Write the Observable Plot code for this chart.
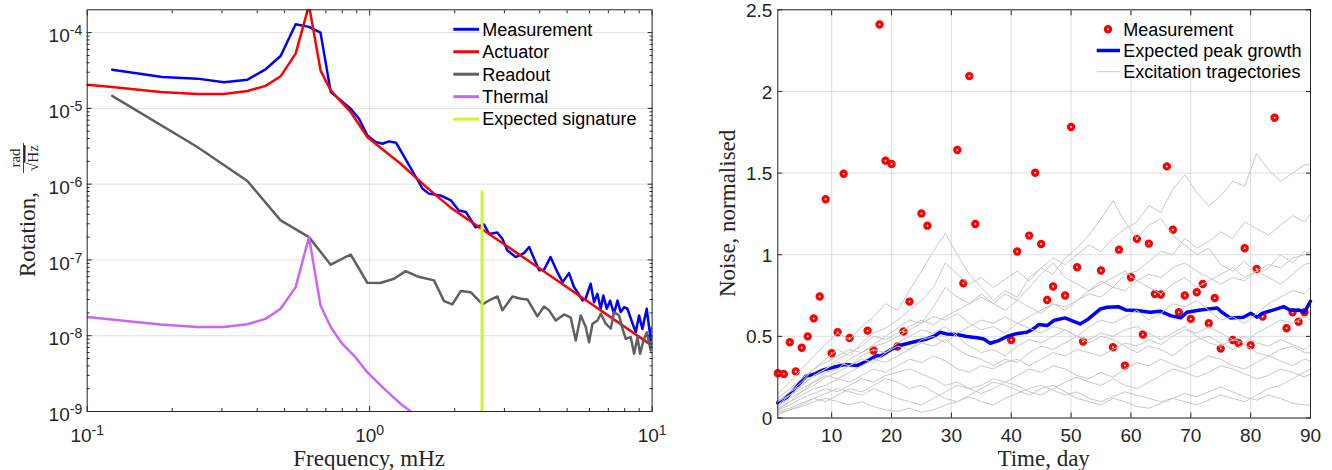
<!DOCTYPE html>
<html><head><meta charset="utf-8">
<script src="https://cdn.jsdelivr.net/npm/d3@7"></script>
<script src="https://cdn.jsdelivr.net/npm/@observablehq/plot@0.6"></script>
<style>
body{margin:0;background:#fff}
#fig{position:relative;width:1332px;height:470px;background:#fff;overflow:hidden}
#fig svg{position:absolute;top:0}
</style></head><body><div id="fig"></div>
<script>
// ---------- Left panel data ----------
const freqMeas = [0.1226,0.1845,0.2455,0.305,0.369,0.428,0.484,0.547,0.610,0.670,0.728,0.857,0.917,0.981,1.05,1.11,1.17,1.24,1.30,1.54,1.62,1.78,1.94,2.07,2.19,2.37,2.54,2.65,2.83,2.95,3.07,3.29,3.52,3.67,3.98,4.14,4.37,4.62,4.82,5.08,5.29,5.44,5.67,5.82,6.06,6.23,6.40,6.58,6.72,6.91,7.10,7.33,7.54,7.74,7.96,8.18,8.45,8.75,8.99,9.24,9.57,9.9,10];
const rotMeas = [3.24e-5,2.60e-5,2.47e-5,2.21e-5,2.39e-5,3.28e-5,4.92e-5,1.29e-4,1.19e-4,1.0e-4,1.65e-5,9.9e-6,7.3e-6,4.4e-6,3.6e-6,3.42e-6,3.67e-6,3.53e-6,2.6e-6,8.7e-7,7.5e-7,7.1e-7,6.1e-7,4.5e-7,4.3e-7,2.7e-7,2.94e-7,2.2e-7,2.3e-7,1.9e-7,1.34e-7,1.09e-7,1.23e-7,1.48e-7,7.3e-8,7.4e-8,1.09e-7,6.9e-8,5.1e-8,6.7e-8,4.4e-8,3.76e-8,2.92e-8,3.1e-8,4.85e-8,2.77e-8,3.57e-8,2.27e-8,3.4e-8,2.27e-8,2.9e-8,1.95e-8,2.92e-8,2.05e-8,2.38e-8,2.27e-8,1.59e-8,1.11e-8,1.85e-8,1.23e-8,2.27e-8,8.6e-9,1.3e-8];

const freqAct = [0.1,0.1226,0.1818,0.2455,0.305,0.369,0.428,0.484,0.547,0.61,0.67,0.728,0.857,0.981,1.124,1.288,1.515,1.69,1.936,2.54,4.0,10];
const rotAct = [2.05e-5,1.92e-5,1.65e-5,1.55e-5,1.55e-5,1.70e-5,1.98e-5,2.65e-5,5.28e-5,2.3e-4,3.18e-5,1.73e-5,8.95e-6,4.19e-6,2.79e-6,1.86e-6,1.07e-6,7.5e-7,4.9e-7,2.45e-7,7.7e-8,7.4e-9];

const freqRead = [0.1226,0.2455,0.369,0.484,0.610,0.728,0.857,0.981,1.09,1.22,1.341,1.476,1.69,1.834,1.963,2.101,2.279,2.507,2.646,2.834,2.951,3.203,3.426,3.619,3.926,4.144,4.317,4.56,4.879,5.152,5.366,5.589,5.823,5.981,6.15,6.408,6.583,6.855,7.14,7.335,7.64,7.855,8.068,8.405,8.635,8.877,9.067,9.322,9.576,9.894,10];
const rotRead = [1.46e-5,3.09e-6,1.1e-6,3.33e-7,2.0e-7,8.65e-8,1.18e-7,5.0e-8,4.97e-8,5.65e-8,7.11e-8,6.06e-8,5.37e-8,2.86e-8,2.59e-8,3.88e-8,3.76e-8,2.59e-8,2.92e-8,3.30e-8,2.16e-8,3.30e-8,3.08e-8,3.01e-8,1.80e-8,2.43e-8,2.16e-8,1.59e-8,1.91e-8,1.73e-8,8.65e-9,1.85e-8,1.30e-8,8.22e-9,1.44e-8,1.59e-8,1.95e-8,1.44e-8,1.24e-8,2.05e-8,1.85e-8,1.24e-8,9.12e-9,9.58e-9,5.78e-9,9.58e-9,5.78e-9,8.65e-9,1.11e-8,6.38e-9,7.83e-9];

const freqTherm = [0.1,0.1818,0.2455,0.305,0.369,0.428,0.484,0.547,0.610,0.670,0.728,0.800,0.880,0.981,1.124,1.288,1.409,1.6];
const rotTherm = [1.76e-8,1.41e-8,1.30e-8,1.30e-8,1.42e-8,1.67e-8,2.27e-8,4.38e-8,2.0e-7,2.51e-8,1.30e-8,7.83e-9,5.48e-9,3.30e-9,2.0e-9,1.26e-9,9.8e-10,6.5e-10];

const sigFreq = [2.5];
const sigTop = 8.1e-7;

const freqTicks = [0.1, 1, 10];
const freqMinor = [0.2,0.3,0.4,0.5,0.6,0.7,0.8,0.9,2,3,4,5,6,7,8,9];
const rotTicks = [1e-9,1e-8,1e-7,1e-6,1e-5,1e-4];
const rotMinor = [];
for (const d of [1e-9,1e-8,1e-7,1e-6,1e-5]) for (const m of [2,3,4,5,6,7,8,9]) rotMinor.push(+(m*d).toPrecision(3));

const leftLegend = ["Measurement","Actuator","Readout","Thermal","Expected signature"];

// ---------- Right panel data ----------
const measDays = [1,2,3,4,5,6,7,8,9,10,11,12,13,16,17,18,19,20,21,22,23,25,26,31,32,33,34,40,41,43,44,45,46,47,49,50,51,52,55,57,58,59,60,61,62,63,64,65,66,67,68,69,70,71,72,73,74,75,77,78,79,80,81,82,84,86,87,88,89];
const measNoise = [0.274,0.27,0.464,0.285,0.43,0.50,0.61,0.744,1.34,0.397,0.525,1.496,0.49,0.535,0.413,2.41,1.576,1.556,0.4375,0.53,0.713,1.253,1.178,1.641,0.825,2.094,1.188,0.478,1.02,1.117,1.502,1.066,0.723,0.805,0.75,1.782,0.923,0.468,0.903,0.433,1.031,0.321,0.862,1.097,0.511,1.068,0.76,0.756,1.541,1.153,0.648,0.75,0.607,0.77,0.821,0.58,0.735,0.425,0.478,0.458,1.04,0.446,0.913,0.621,1.839,0.55,0.648,0.59,0.648];

const peakDays = [1,2.5,4.1,5.7,7.2,8.6,10.3,12.2,14.2,15.9,17.5,18.3,19.8,21.4,22.8,24.2,25.9,27.3,28.1,29.2,30.9,32.6,34.3,35.4,36.5,37.9,39.3,40.7,42.6,43.7,44.6,46,47.1,49,50.1,51.5,52.9,54.9,56,57.9,59.1,61,63.2,64.9,66.6,68.3,69.4,71.6,74.4,75.2,76.6,78.8,80,81.1,81.9,84.4,85.5,86.7,88,89,90];
const peakNoise = [0.093,0.127,0.189,0.256,0.27,0.295,0.311,0.327,0.321,0.348,0.382,0.382,0.417,0.444,0.458,0.47,0.484,0.505,0.525,0.515,0.511,0.499,0.491,0.484,0.458,0.474,0.499,0.515,0.525,0.546,0.572,0.566,0.597,0.613,0.597,0.576,0.607,0.668,0.678,0.682,0.662,0.658,0.648,0.654,0.627,0.613,0.648,0.662,0.674,0.648,0.613,0.617,0.641,0.617,0.641,0.668,0.682,0.658,0.662,0.648,0.715];

const trajDays = [1,3,5,7,9,11,13,15,17,19,21,23,25,27,29,31,33,35,37,39,41,43,45,47,49,51,53,55,57,59,61,63,65,67,69,71,73,75,77,79,81,83,85,87,89,90];
const trajA = [0.15,0.22,0.3,0.38,0.45,0.52,0.48,0.56,0.62,0.7,0.66,0.78,0.9,1.02,1.13,1.0,0.88,0.8,0.72,0.78,0.74,0.86,0.92,0.88,0.98,1.04,1.12,1.22,1.33,1.2,1.1,1.18,1.22,1.12,1.06,1.0,1.04,0.94,0.9,0.96,0.88,0.92,1.0,0.95,1.02,1.0];
const trajB = [0.1,0.16,0.22,0.3,0.36,0.42,0.38,0.46,0.52,0.55,0.6,0.66,0.72,0.8,0.95,0.88,0.82,0.86,0.8,0.85,0.9,0.84,0.92,0.98,0.94,1.0,1.06,1.02,1.1,1.16,1.2,1.3,1.26,1.4,1.49,1.38,1.3,1.36,1.45,1.42,1.62,1.52,1.45,1.5,1.55,1.55];
const trajC = [0.05,0.1,0.16,0.22,0.28,0.3,0.36,0.4,0.45,0.5,0.55,0.6,0.58,0.68,0.8,0.74,0.7,0.76,0.7,0.66,0.72,0.8,0.88,0.95,0.86,0.82,0.78,0.84,0.8,0.88,0.9,0.96,1.02,1.0,1.1,1.04,1.08,1.14,1.1,1.2,1.16,1.12,1.18,1.24,1.2,1.25];
const trajD = [0.12,0.18,0.24,0.3,0.34,0.38,0.42,0.4,0.44,0.46,0.5,0.54,0.58,0.62,0.6,0.64,0.58,0.54,0.56,0.52,0.58,0.62,0.66,0.7,0.68,0.72,0.76,0.74,0.8,0.78,0.84,0.88,0.86,0.92,0.95,0.9,0.86,0.82,0.86,0.84,0.9,0.94,0.92,0.98,1.0,1.02];
const trajE = [0.08,0.14,0.2,0.26,0.3,0.34,0.32,0.38,0.42,0.4,0.46,0.5,0.54,0.52,0.56,0.5,0.44,0.4,0.42,0.38,0.44,0.48,0.46,0.5,0.54,0.5,0.56,0.6,0.58,0.62,0.66,0.6,0.64,0.7,0.68,0.72,0.66,0.6,0.62,0.58,0.64,0.7,0.74,0.78,0.76,0.8];
const trajF = [0.1,0.14,0.18,0.22,0.26,0.24,0.28,0.32,0.36,0.34,0.38,0.42,0.46,0.44,0.48,0.42,0.38,0.36,0.32,0.36,0.34,0.4,0.44,0.42,0.46,0.5,0.48,0.52,0.5,0.54,0.56,0.52,0.48,0.52,0.56,0.5,0.46,0.44,0.48,0.46,0.52,0.56,0.6,0.58,0.62,0.6];
const trajG = [0.06,0.1,0.14,0.18,0.2,0.24,0.22,0.26,0.3,0.28,0.32,0.36,0.34,0.38,0.35,0.3,0.28,0.32,0.3,0.34,0.36,0.32,0.36,0.4,0.38,0.42,0.4,0.38,0.42,0.46,0.44,0.48,0.45,0.5,0.54,0.52,0.56,0.52,0.48,0.5,0.46,0.44,0.48,0.45,0.42,0.45];
const trajH = [0.05,0.08,0.12,0.15,0.18,0.16,0.2,0.24,0.22,0.26,0.28,0.3,0.27,0.24,0.2,0.22,0.18,0.2,0.24,0.22,0.26,0.3,0.28,0.32,0.3,0.26,0.24,0.28,0.25,0.3,0.34,0.32,0.36,0.33,0.3,0.34,0.38,0.36,0.32,0.3,0.34,0.38,0.35,0.32,0.36,0.35];
const trajI = [0.04,0.06,0.09,0.12,0.15,0.18,0.16,0.14,0.18,0.15,0.12,0.1,0.08,0.12,0.16,0.2,0.18,0.15,0.18,0.22,0.2,0.16,0.14,0.18,0.22,0.25,0.22,0.2,0.24,0.2,0.18,0.22,0.26,0.3,0.28,0.25,0.28,0.32,0.3,0.27,0.24,0.26,0.3,0.28,0.25,0.27];
const trajJ = [0.03,0.05,0.07,0.1,0.12,0.1,0.08,0.1,0.07,0.05,0.04,0.06,0.035,0.05,0.08,0.1,0.13,0.1,0.08,0.12,0.15,0.18,0.2,0.17,0.14,0.16,0.12,0.1,0.13,0.16,0.14,0.12,0.1,0.12,0.15,0.13,0.16,0.19,0.16,0.13,0.11,0.14,0.12,0.09,0.08,0.08];
const trajK = [0.1,0.16,0.2,0.26,0.3,0.36,0.4,0.44,0.5,0.48,0.52,0.56,0.6,0.57,0.62,0.66,0.7,0.74,0.7,0.76,0.72,0.68,0.64,0.7,0.66,0.72,0.78,0.82,0.86,0.9,0.84,0.8,0.76,0.82,0.86,0.8,0.84,0.88,0.92,0.86,0.9,0.86,0.82,0.88,0.94,0.95];
const trajL = [0.07,0.12,0.16,0.2,0.25,0.28,0.32,0.36,0.34,0.4,0.44,0.42,0.48,0.5,0.46,0.52,0.56,0.6,0.58,0.62,0.58,0.55,0.52,0.56,0.54,0.5,0.46,0.5,0.48,0.44,0.4,0.44,0.42,0.38,0.44,0.48,0.5,0.46,0.42,0.45,0.4,0.38,0.42,0.44,0.4,0.4];
const trajM = [0.02,0.05,0.08,0.12,0.1,0.14,0.18,0.16,0.2,0.24,0.22,0.18,0.2,0.16,0.12,0.1,0.14,0.18,0.22,0.2,0.17,0.14,0.18,0.2,0.16,0.12,0.1,0.08,0.12,0.1,0.07,0.06,0.09,0.12,0.1,0.08,0.11,0.14,0.12,0.1,0.14,0.18,0.2,0.24,0.28,0.3];

const dayTicks = [10,20,30,40,50,60,70,80,90];
const noiseTicks = [0,0.5,1,1.5,2,2.5];
const rightLegend = ["Measurement","Expected peak growth","Excitation tragectories"];

// ---------- Styles ----------
const AX = "#262626";
const SANS = "'Liberation Sans', Arial, Helvetica, sans-serif";
const SERIF = "'Liberation Serif', 'Times New Roman', serif";
const C = {meas:"#0000ff", act:"#ff0000", read:"#606060", therm:"#c867f5", sig:"#ccf52c", traj:"#c8c8c8"};

const zip = (xs, ys, kx, ky) => xs.map((x, i) => ({[kx]: x, [ky]: ys[i]}));

// ---------- Left plot ----------
const L = {w: 670, h: 470, ml: 86.7, mr: 18.4, mt: 9.3, mb: 59};
const left = Plot.plot({
  width: L.w, height: L.h,
  marginLeft: L.ml, marginRight: L.mr, marginTop: L.mt, marginBottom: L.mb,
  style: {fontFamily: SANS, fontSize: "19px", color: AX, background: "transparent"},
  x: {type: "log", domain: [0.1, 10], label: null},
  y: {type: "log", domain: [1e-9, 2e-4], label: null},
  marks: [
    Plot.gridX([1], {stroke: AX, strokeOpacity: 0.15}),
    Plot.gridY(rotTicks.slice(1), {stroke: AX, strokeOpacity: 0.15}),
    Plot.line(zip(freqMeas, rotMeas, "f", "v"), {x: "f", y: "v", stroke: C.meas, strokeWidth: 2.5, clip: true}),
    Plot.line(zip(freqAct, rotAct, "f", "v"), {x: "f", y: "v", stroke: C.act, strokeWidth: 2.5, clip: true}),
    Plot.line(zip(freqRead, rotRead, "f", "v"), {x: "f", y: "v", stroke: C.read, strokeWidth: 2.5, clip: true}),
    Plot.line(zip(freqTherm, rotTherm, "f", "v"), {x: "f", y: "v", stroke: C.therm, strokeWidth: 2.5, clip: true}),
    Plot.ruleX(sigFreq, {y1: sigTop, y2: 1e-9, stroke: C.sig, strokeWidth: 3}),
    Plot.axisX(freqTicks, {tickSize: 0, tickPadding: 17, tickFormat: d => "10^" + Math.round(Math.log10(d)), label: null}),
    Plot.axisY(rotTicks, {tickSize: 0, tickPadding: 5, dy: 3.5, tickFormat: d => "10^" + Math.round(Math.log10(d)), label: null}),
    Plot.axisX(freqTicks, {tickSize: -5, tickFormat: () => "", label: null, stroke: AX}),
    Plot.axisX(freqMinor, {tickSize: -3, tickFormat: () => "", label: null, stroke: AX}),
    Plot.axisX(freqTicks, {anchor: "top", tickSize: -5, tickFormat: () => "", label: null, stroke: AX}),
    Plot.axisX(freqMinor, {anchor: "top", tickSize: -3, tickFormat: () => "", label: null, stroke: AX}),
    Plot.axisY(rotTicks, {tickSize: -5, tickFormat: () => "", label: null, stroke: AX}),
    Plot.axisY(rotMinor, {tickSize: -3, tickFormat: () => "", label: null, stroke: AX}),
    Plot.axisY(rotTicks, {anchor: "right", tickSize: -5, tickFormat: () => "", label: null, stroke: AX}),
    Plot.axisY(rotMinor, {anchor: "right", tickSize: -3, tickFormat: () => "", label: null, stroke: AX}),
    Plot.frame({stroke: AX})
  ]
});
left.style.left = "0px";

// ---------- Right plot ----------
const R = {x0: 670, w: 662, h: 470, ml: 107.3, mr: 22, mt: 9.3, mb: 52.5};
const trajList = [trajA,trajB,trajC,trajD,trajE,trajF,trajG,trajH,trajI,trajJ,trajK,trajL,trajM];
const trajData = trajList.flatMap((vals, k) => vals.map((v, i) => ({d: trajDays[i], v, id: k})));
const right = Plot.plot({
  width: R.w, height: R.h,
  marginLeft: R.ml, marginRight: R.mr, marginTop: R.mt, marginBottom: R.mb,
  style: {fontFamily: SANS, fontSize: "19px", color: AX, background: "transparent", overflow: "visible"},
  x: {domain: [1, 90], label: null},
  y: {domain: [0, 2.5], label: null},
  marks: [
    Plot.gridX(dayTicks, {stroke: AX, strokeOpacity: 0.15}),
    Plot.gridY(noiseTicks, {stroke: AX, strokeOpacity: 0.15}),
    Plot.dot(zip(measDays, measNoise, "d", "v"), {x: "d", y: "v", r: 2.6, stroke: C.act, strokeWidth: 3.2, fill: "white"}),
    Plot.line(zip(peakDays, peakNoise, "d", "v"), {x: "d", y: "v", stroke: C.meas, strokeWidth: 3.5}),
    Plot.line(trajData, {x: "d", y: "v", z: "id", stroke: C.traj, strokeWidth: 1}),
    Plot.axisX(dayTicks, {tickSize: 0, tickPadding: 10.5, tickFormat: d => String(d), label: null}),
    Plot.axisY(noiseTicks, {tickSize: 0, tickPadding: 5.5, dy: 1, tickFormat: d => String(d), label: null}),
    Plot.axisX(dayTicks, {tickSize: -5, tickFormat: () => "", label: null, stroke: AX}),
    Plot.axisX(dayTicks, {anchor: "top", tickSize: -5, tickFormat: () => "", label: null, stroke: AX}),
    Plot.axisY(noiseTicks, {tickSize: -5, tickFormat: () => "", label: null, stroke: AX}),
    Plot.axisY(noiseTicks, {anchor: "right", tickSize: -5, tickFormat: () => "", label: null, stroke: AX}),
    Plot.frame({stroke: AX})
  ]
});
right.style.left = R.x0 + "px";

const fig = document.getElementById("fig");
fig.appendChild(left);
fig.appendChild(right);

// superscripts for "10^n" tick labels
function supers(svg) {
  d3.select(svg).selectAll("text").each(function () {
    const t = this.textContent;
    const i = t.indexOf("^");
    if (i >= 0) {
      this.textContent = t.slice(0, i);
      d3.select(this).append("tspan").attr("dy", -7).attr("font-size", 14).text(t.slice(i + 1));
    }
  });
}
supers(left);

// ---------- Axis labels ----------
function label(svg, x, y, str, {rotate = 0, size = 23, anchor = "middle", family = SERIF} = {}) {
  return d3.select(svg).append("text")
    .attr("transform", `translate(${x},${y}) rotate(${rotate})`)
    .attr("text-anchor", anchor).attr("font-family", family).attr("font-size", size)
    .attr("fill", AX).text(str);
}
label(left, (L.ml + L.w - L.mr) / 2, 466, "Frequency, mHz");
label(right, (R.ml + R.w - R.mr) / 2, 466, "Time, day");
label(right, 735 - R.x0, (R.mt + R.h - R.mb) / 2, "Noise, normalised", {rotate: -90});

// left y label with fraction rad / sqrt(Hz)
{
  const g = d3.select(left).append("g").attr("transform", "translate(35,210) rotate(-90)")
    .attr("font-family", SERIF).attr("fill", AX);
  g.append("text").attr("x", -67).attr("y", 0).attr("text-anchor", "start").attr("font-size", 23).text("Rotation,");
  g.append("text").attr("x", 52).attr("y", -15).attr("text-anchor", "middle").attr("font-size", 15).text("rad");
  const den = g.append("text").attr("x", 52).attr("y", 3).attr("text-anchor", "middle").attr("font-size", 15);
  den.append("tspan").text("\u221A");
  den.append("tspan").attr("text-decoration", "overline").text("Hz");
  g.append("line").attr("x1", 37).attr("x2", 67).attr("y1", -11.5).attr("y2", -11.5)
    .attr("stroke", AX).attr("stroke-width", 0.9);
}

// ---------- Legends ----------
{
  const g = d3.select(left).append("g").attr("font-family", SANS).attr("font-size", 18).attr("text-anchor", "start");
  const cols = [C.meas, C.act, C.read, C.therm, C.sig];
  leftLegend.forEach((name, i) => {
    const y = 29.3 + i * 22.45;
    g.append("line").attr("x1", 453.3).attr("x2", 479).attr("y1", y).attr("y2", y)
      .attr("stroke", cols[i]).attr("stroke-width", 3);
    g.append("text").attr("x", 482.3).attr("y", y).attr("dy", "0.35em").attr("fill", "#000").text(name);
  });
}
{
  const g = d3.select(right).append("g").attr("font-family", SANS).attr("font-size", 18).attr("text-anchor", "start");
  const x1 = 1096.7 - R.x0, x2 = 1120 - R.x0, tx = 1123.3 - R.x0;
  rightLegend.forEach((name, i) => {
    const y = 29.3 + i * 21.2;
    if (i === 0) {
      g.append("circle").attr("cx", 1108 - R.x0).attr("cy", y).attr("r", 2.6)
        .attr("fill", "white").attr("stroke", C.act).attr("stroke-width", 3.2);
    } else {
      g.append("line").attr("x1", x1).attr("x2", x2).attr("y1", y).attr("y2", y)
        .attr("stroke", i === 1 ? C.meas : C.traj).attr("stroke-width", i === 1 ? 3.5 : 1);
    }
    g.append("text").attr("x", tx).attr("y", y).attr("dy", "0.35em").attr("fill", "#000").text(name);
  });
}
</script></body></html>
